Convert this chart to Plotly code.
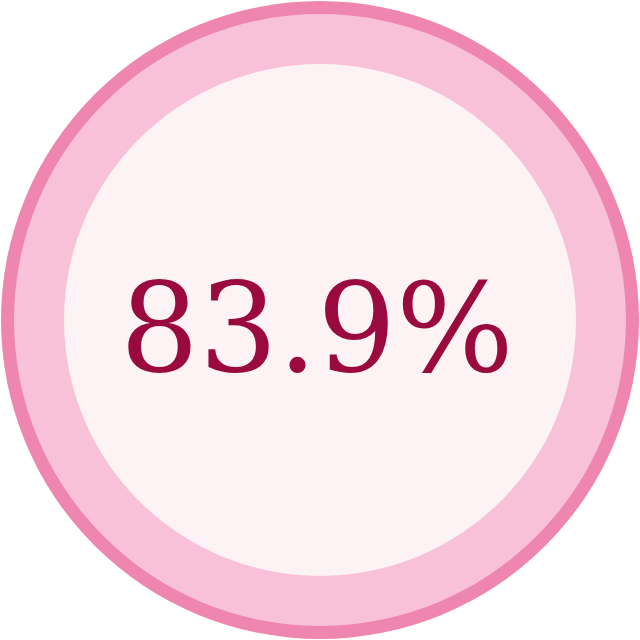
import plotly.graph_objects as go

# value shown in the badge
value = 83.9
label_suffix = "%"

size = 640
border_color = "#EE86AF"
ring_color = "#F9C1D8"
inner_color = "#FDF2F4"
text_color = "#9B0A3E"

fig = go.Figure()

c = size / 2
# outer border, ring, inner disc
for r, col in [(319, border_color), (306, ring_color), (256, inner_color)]:
    fig.add_shape(type="circle", xref="x", yref="y",
                  x0=c - r, x1=c + r, y0=c - r, y1=c + r,
                  fillcolor=col, line=dict(width=0), layer="below")

fig.add_annotation(
    x=c - 3, y=c + 8, xref="x", yref="y",
    text=f"{value:.1f}{label_suffix}",
    showarrow=False,
    font=dict(family="DejaVu Serif", size=124, color=text_color),
    xanchor="center", yanchor="middle",
)

fig.update_xaxes(range=[0, size], visible=False, fixedrange=True)
fig.update_yaxes(range=[size, 0], visible=False, fixedrange=True)
fig.update_layout(
    width=size, height=size,
    margin=dict(l=0, r=0, t=0, b=0),
    paper_bgcolor="white", plot_bgcolor="white",
    showlegend=False,
)

# drop the default page margin so the badge sits flush in the window
fig.write_html("out.html", config={"displayModeBar": False},
               post_script="document.body.style.margin='0';document.body.style.overflow='hidden';")
